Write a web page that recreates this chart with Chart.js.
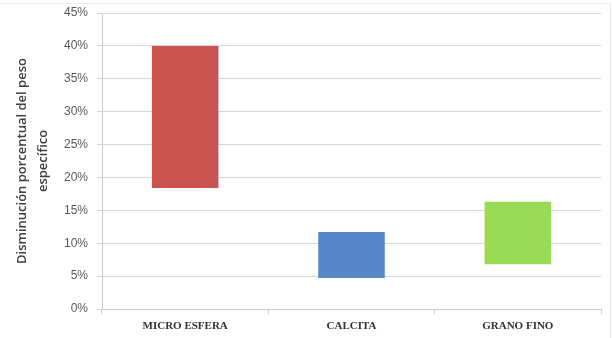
<!DOCTYPE html>
<html>
<head>
<meta charset="utf-8">
<script src="https://cdn.jsdelivr.net/npm/chart.js@4.4.3/dist/chart.umd.min.js"></script>
<style>
  html, body { margin: 0; padding: 0; background: #fff; }
  #wrap { width: 613px; height: 338px; position: relative; }
  #frame {
    position: absolute; top: 3px; left: 0; right: 2px; bottom: 0;
    border-top: 1px solid #ececec; border-right: 1px solid #ececec;
    pointer-events: none;
  }
</style>
</head>
<body>
<div id="wrap"><canvas id="chart" width="613" height="338"></canvas><div id="frame"></div></div>
<script>
// Categories and floating bar ranges (percent, low to high)
const categories = ['MICRO ESFERA', 'CALCITA', 'GRANO FINO'];
const lowValues = [18.4, 4.7, 6.8];
const highValues = [40.0, 11.7, 16.3];
const barColors = ['#C9534F', '#5586C8', '#9ADB56'];
const yTitle = ['Disminución porcentual del peso', 'específico'];

const ranges = categories.map((_, i) => [lowValues[i], highValues[i]]);

new Chart(document.getElementById('chart'), {
  type: 'bar',
  data: {
    labels: categories,
    datasets: [{
      data: ranges,
      backgroundColor: barColors,
      borderWidth: 0,
      categoryPercentage: 1,
      barPercentage: 0.4
    }]
  },
  options: {
    responsive: false,
    animation: false,
    devicePixelRatio: 1,
    layout: { padding: { top: 13, right: 12, bottom: 0, left: 12 } },
    plugins: {
      legend: { display: false },
      tooltip: { enabled: false }
    },
    scales: {
      y: {
        min: 0,
        max: 45,
        ticks: {
          stepSize: 5,
          autoSkip: false,
          color: '#595959',
          padding: 9,
          font: { family: 'Liberation Sans', size: 12 },
          callback: v => v + '%'
        },
        grid: { color: '#d6d6d6', tickLength: 5 },
        border: { color: '#cccccc' },
        title: {
          display: true,
          text: yTitle,
          color: '#404040',
          font: { family: 'Open Sans', size: 13, weight: '600', lineHeight: 1.6 },
          padding: { top: 0, bottom: 0 }
        },
        // fixed axis width; let layout padding set the plot top
        afterFit: s => { s.width = 90; s.paddingTop = 0; s.paddingBottom = 0; }
      },
      x: {
        ticks: {
          autoSkip: false,
          color: '#333',
          padding: 6,
          maxRotation: 0,
          font: { family: 'Liberation Serif', size: 11, weight: 'bold' }
        },
        grid: { drawOnChartArea: false, color: '#cccccc', tickLength: 5 },
        border: { color: '#cccccc' },
        afterFit: s => { s.height = 29; }
      }
    }
  }
});
</script>
</body>
</html>
